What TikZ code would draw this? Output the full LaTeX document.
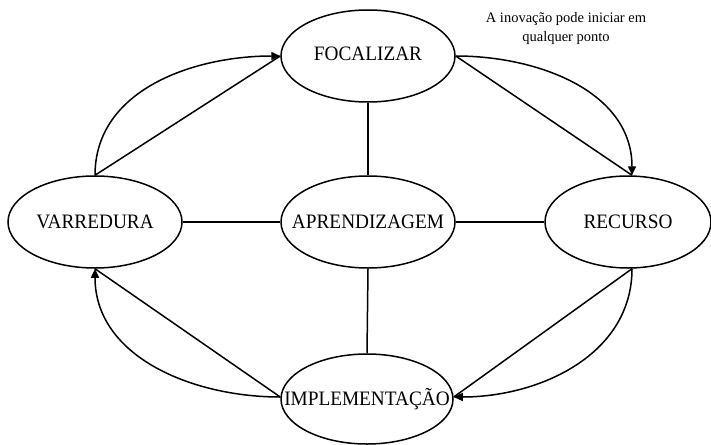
\documentclass[tikz,border=0pt]{standalone}
\usepackage{fontspec}
\setmainfont{Liberation Serif}
\usepackage{graphicx}
\usetikzlibrary{shapes.geometric,arrows.meta}

% stage label: zero width so the oval keeps its set size, slightly condensed
\newcommand{\stagelabel}[1]{\makebox[0pt]{\scalebox{0.94}[1]{\fontsize{20.5}{24}\selectfont #1}}}

\begin{document}
\begin{tikzpicture}[x=1pt,y=-1pt,
  oval/.style={draw, ellipse, line width=1.5pt, inner sep=0pt,
               minimum width=174pt, minimum height=92pt},
  link/.style={line width=1.5pt},
  flow/.style={line width=1.5pt, -{Triangle[length=9pt,width=8pt]}}]
  \useasboundingbox (0,0) rectangle (711,444);

  % stages
  \node[oval] (F) at (368,56) {\raisebox{4pt}{\stagelabel{FOCALIZAR}}};
  \node[oval] (V) at (95,222) {\stagelabel{VARREDURA}};
  \node[oval] (A) at (368,222) {\stagelabel{APRENDIZAGEM}};
  \node[oval, minimum width=166pt] (R) at (628,222) {\stagelabel{RECURSO}};
  \node[oval, minimum width=172pt, minimum height=90pt] (I) at (367,399)
       {\raisebox{-2pt}{\stagelabel{IMPLEMENTAÇÃO}}};

  % note
  \node[align=center, font=\fontsize{14.5}{19}\selectfont] (note) at (566,29)
       {A inovação pode iniciar em\\qualquer ponto};

  % links to the central stage
  \draw[link] (F.south) -- (A.north);
  \draw[link] (A.south) -- (I.north);
  \draw[link] (V.east) -- (A.west);
  \draw[link] (A.east) -- (R.west);

  % cycle: each step drawn as a straight line and a curved arrow
  \draw[link] (V.north) -- (F.west);
  \draw[flow] (V.north) to[out=90,in=180] (F.west);

  \draw[link] (F.east) -- ([xshift=4pt]R.north);
  \draw[flow] (F.east) to[out=0,in=90] ([xshift=4pt]R.north);

  \draw[link] ([xshift=4pt]R.south) -- ([yshift=2pt]I.east);
  \draw[flow] ([xshift=4pt]R.south) to[out=270,in=0] ([yshift=2pt]I.east);

  \draw[link] ([yshift=2pt]I.west) -- (V.south);
  \draw[flow] ([yshift=2pt]I.west) to[out=180,in=270] (V.south);
\end{tikzpicture}
\end{document}
